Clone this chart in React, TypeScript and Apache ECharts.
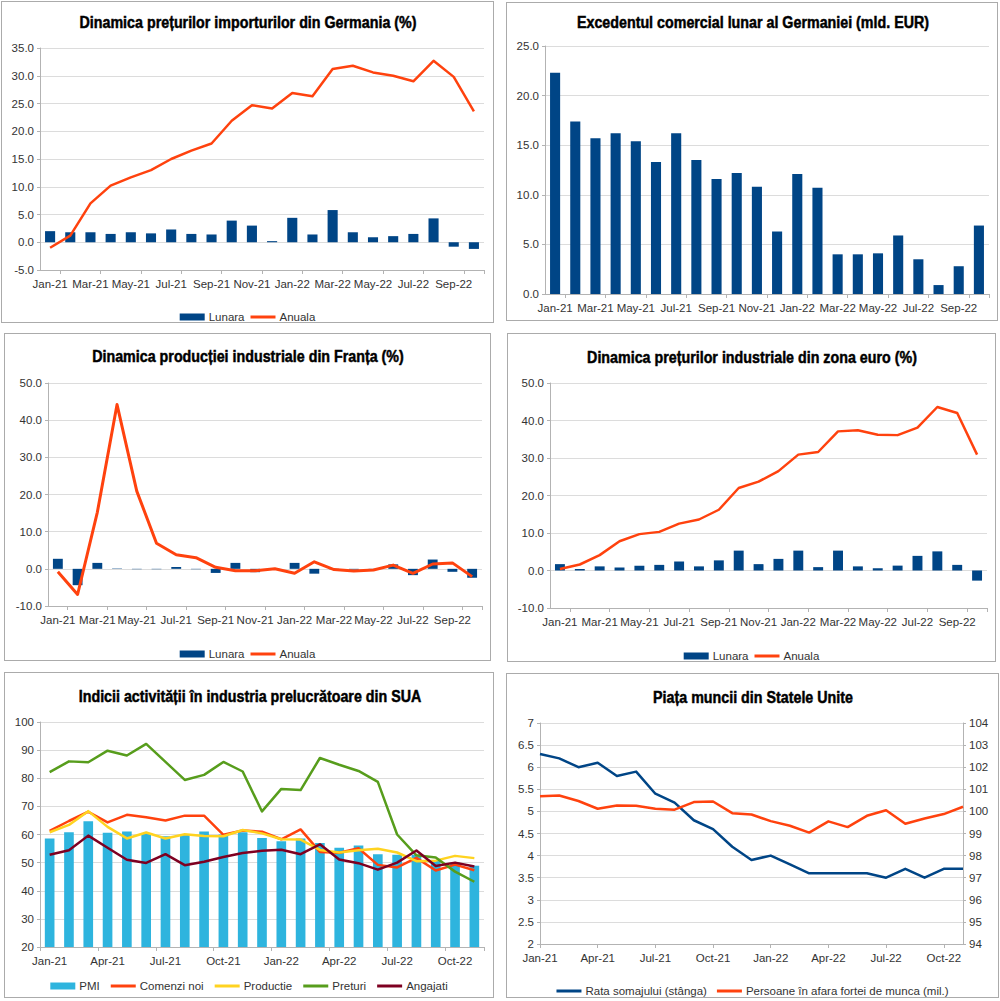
import React, { useEffect, useRef } from "react";
import * as echarts from "echarts";

const months22 = [
  "Jan-21", "Feb-21", "Mar-21", "Apr-21", "May-21", "Jun-21", "Jul-21", "Aug-21", "Sep-21", "Oct-21", "Nov-21", "Dec-21",
  "Jan-22", "Feb-22", "Mar-22", "Apr-22", "May-22", "Jun-22", "Jul-22", "Aug-22", "Sep-22", "Oct-22",
];
const months23 = [...months22, "Nov-22"];

// Germania - preturi import
const deImpLunara = [2.0, 1.8, 1.8, 1.5, 1.8, 1.6, 2.3, 1.5, 1.4, 3.9, 3.0, 0.2, 4.4, 1.4, 5.8, 1.8, 0.9, 1.1, 1.5, 4.3, -0.8, -1.2];
const deImpAnuala = [-1.0, 1.2, 7.0, 10.2, 11.7, 13.0, 15.0, 16.5, 17.8, 21.9, 24.7, 24.1, 26.9, 26.3, 31.2, 31.8, 30.6, 30.0, 29.0, 32.7, 29.8, 23.6];

// Germania - excedent comercial
const deExcedent = [22.3, 17.4, 15.7, 16.2, 15.4, 13.3, 16.2, 13.5, 11.6, 12.2, 10.8, 6.3, 12.1, 10.7, 4.0, 4.0, 4.1, 5.9, 3.5, 0.9, 2.8, 6.9];

// Franta - productie industriala
const frLunara = [2.7, -4.4, 1.6, 0.1, -0.1, -0.1, 0.5, -0.1, -1.1, 1.6, -0.9, -0.2, 1.6, -1.3, -0.1, -0.2, -0.2, 1.2, -1.7, 2.5, -0.8, -2.4];
const frAnuala = [-0.8, -6.9, 15.2, 44.2, 20.9, 6.9, 3.8, 3.0, 0.4, -0.5, -0.5, 0.0, -1.2, 1.9, -0.2, -0.6, -0.3, 1.0, -1.2, 1.3, 1.6, -2.1];

// Zona euro - preturi industriale
const ezLunara = [1.7, 0.4, 1.1, 0.8, 1.3, 1.5, 2.4, 1.1, 2.7, 5.3, 1.7, 3.1, 5.3, 0.9, 5.3, 1.1, 0.6, 1.3, 3.9, 5.1, 1.5, -2.7];
const ezAnuala = [0.4, 1.6, 4.1, 7.8, 9.7, 10.3, 12.5, 13.6, 16.2, 22.0, 23.7, 26.5, 30.9, 31.6, 37.1, 37.4, 36.2, 36.1, 38.1, 43.6, 42.0, 30.9];

// SUA - ISM manufacturing
const pmi = [58.6, 60.8, 64.7, 60.6, 61.1, 60.4, 59.4, 59.8, 61.1, 60.0, 60.8, 58.8, 57.6, 58.6, 57.0, 55.3, 56.1, 53.0, 52.8, 52.8, 50.9, 50.1, 48.9];
const comenziNoi = [61.3, 64.8, 68.1, 64.3, 67.0, 66.1, 65.0, 66.7, 66.7, 59.9, 61.4, 61.0, 58.3, 61.8, 53.8, 53.5, 55.1, 49.2, 48.3, 51.7, 47.2, 49.3, 47.3];
const productie = [60.8, 63.4, 68.3, 62.7, 58.6, 60.7, 58.6, 60.1, 59.5, 59.4, 61.6, 60.4, 58.3, 58.2, 54.5, 53.6, 54.4, 54.9, 53.6, 50.5, 50.7, 52.4, 51.6];
const preturi = [82.2, 86.0, 85.7, 89.8, 88.1, 92.2, 85.8, 79.4, 81.2, 85.8, 82.4, 68.2, 76.2, 75.8, 87.2, 84.8, 82.6, 78.7, 60.0, 52.6, 51.8, 46.8, 43.2];
const angajati = [52.8, 54.4, 59.6, 55.3, 51.0, 49.9, 53.0, 49.1, 50.3, 52.0, 53.4, 54.2, 54.6, 53.0, 56.5, 51.1, 49.8, 47.5, 50.0, 54.3, 48.8, 50.0, 48.6];

// SUA - piata muncii
const rataSomaj = [6.3, 6.2, 6.0, 6.1, 5.8, 5.9, 5.4, 5.2, 4.8, 4.6, 4.2, 3.9, 4.0, 3.8, 3.6, 3.6, 3.6, 3.6, 3.5, 3.7, 3.5, 3.7, 3.7];
const inAfara = [100.68, 100.72, 100.47, 100.12, 100.27, 100.26, 100.12, 100.08, 100.42, 100.45, 99.92, 99.86, 99.56, 99.35, 99.04, 99.55, 99.29, 99.8, 100.05, 99.44, 99.68, 99.88, 100.21];

const FONT = "'Liberation Sans', Arial, sans-serif";
const BLUE = "#004586";
const ORANGE = "#ff420e";
const GRID = "#dcdcdc";
const AXIS = "#b3b3b3";
const TEXT = "#333";
const LINE_ICON = "path://M0 0H25V3H0Z";

// condensed bold title, drawn as text squeezed horizontally
const title = (text: string, cx: number, cy: number) => ({
  type: "text",
  x: cx,
  y: cy,
  scaleX: 0.84,
  style: {
    text,
    fontFamily: FONT,
    fontWeight: "bold",
    fontSize: 17,
    fill: "#000",
    stroke: "#000",
    lineWidth: 0.5,
    textAlign: "center",
    textVerticalAlign: "middle",
    align: "center",
    verticalAlign: "middle",
  },
});

const catAxis = (data: string[], every: number, gap = true) => ({
  type: "category",
  data,
  boundaryGap: gap,
  axisLine: { onZero: false, lineStyle: { color: AXIS } },
  axisTick: {
    show: true,
    length: 4,
    lineStyle: { color: AXIS },
    interval: gap ? (i: number) => i % every === (every === 2 ? 1 : 0) : every - 1,
  },
  axisLabel: { interval: every - 1, color: TEXT, fontFamily: FONT, fontSize: 11.5, margin: 8 },
});

const valAxis = (min: number, max: number, step: number, fmt?: (v: number) => string) => ({
  type: "value",
  min,
  max,
  interval: step,
  axisLine: { show: true, lineStyle: { color: AXIS } },
  axisTick: { show: true, length: 3, lineStyle: { color: AXIS } },
  splitLine: { lineStyle: { color: GRID } },
  axisLabel: { color: TEXT, fontFamily: FONT, fontSize: 11.5, margin: 6, formatter: fmt },
});

const legend = (top: number, gap: number, names: string[], barName?: string) => ({
  top,
  left: "center",
  itemWidth: 25,
  itemHeight: 7,
  itemGap: gap,
  textStyle: { color: TEXT, fontFamily: FONT, fontSize: 11.5, padding: [0, 0, 0, -1] },
  data: names.map((name) => ({ name, icon: name === barName ? "rect" : LINE_ICON })),
});

const fix1 = (v: number) => v.toFixed(1);

const barLine = (bars: number[], line: number[], lw: number) => [
  { name: "Lunara", type: "bar", data: bars, barWidth: "50%", itemStyle: { color: BLUE } },
  {
    name: "Anuala",
    type: "line",
    data: line,
    symbol: "none",
    lineStyle: { color: ORANGE, width: lw, join: "round" },
    itemStyle: { color: ORANGE },
  },
];

const opt1 = {
  animation: false,
  graphic: [title("Dinamica prețurilor importurilor din Germania (%)", 246, 20)],
  grid: { left: 38, right: 9, top: 46, bottom: 52 },
  legend: legend(304, 6, ["Lunara", "Anuala"], "Lunara"),
  xAxis: catAxis(months22, 2),
  yAxis: valAxis(-5, 35, 5, fix1),
  series: barLine(deImpLunara, deImpAnuala, 2.5),
};

const opt2 = {
  animation: false,
  graphic: [title("Excedentul comercial lunar al Germaniei (mld. EUR)", 246, 19)],
  grid: { left: 38, right: 8, top: 43, bottom: 26 },
  xAxis: catAxis(months22, 2),
  yAxis: valAxis(0, 25, 5, fix1),
  series: [{ name: "Excedent", type: "bar", data: deExcedent, barWidth: "50%", itemStyle: { color: BLUE } }],
};

const opt3 = {
  animation: false,
  graphic: [title("Dinamica producției industriale din Franța (%)", 243, 22)],
  grid: { left: 43, right: 8, top: 49, bottom: 54 },
  legend: legend(309, 6, ["Lunara", "Anuala"], "Lunara"),
  xAxis: catAxis(months22, 2),
  yAxis: valAxis(-10, 50, 10, fix1),
  series: barLine(frLunara, frAnuala, 3),
};

const opt4 = {
  animation: false,
  graphic: [title("Dinamica prețurilor industriale din zona euro (%)", 244, 23)],
  grid: { left: 42, right: 8, top: 49, bottom: 53 },
  legend: legend(311, 6, ["Lunara", "Anuala"], "Lunara"),
  xAxis: catAxis(months22, 2),
  yAxis: valAxis(-10, 50, 10, fix1),
  series: barLine(ezLunara, ezAnuala, 2.5),
};

const ln = (name: string, data: number[], color: string, yAxisIndex = 0) => ({
  name,
  type: "line",
  data,
  yAxisIndex,
  symbol: "none",
  lineStyle: { color, width: 2.5, join: "round" },
  itemStyle: { color },
});

const opt5 = {
  animation: false,
  graphic: [title("Indicii activității în industria prelucrătoare din SUA", 245, 23)],
  grid: { left: 35, right: 9, top: 49, bottom: 50 },
  legend: legend(302, 11, ["PMI", "Comenzi noi", "Productie", "Preturi", "Angajati"], "PMI"),
  xAxis: catAxis(months23, 3),
  yAxis: valAxis(20, 100, 10),
  series: [
    { name: "PMI", type: "bar", data: pmi, barWidth: "50%", itemStyle: { color: "#2eb4de" } },
    ln("Comenzi noi", comenziNoi, ORANGE),
    ln("Productie", productie, "#ffd320"),
    ln("Preturi", preturi, "#579d1c"),
    ln("Angajati", angajati, "#7e0021"),
  ],
};

const opt6 = {
  animation: false,
  graphic: [title("Piața muncii din Statele Unite", 246, 23)],
  grid: { left: 33, right: 35, top: 49, bottom: 53 },
  legend: legend(306, 10, ["Rata somajului (stânga)", "Persoane în afara fortei de munca (mil.)"]),
  xAxis: catAxis(months23, 3, false),
  yAxis: [
    valAxis(2, 7, 0.5),
    { ...valAxis(94, 104, 1), position: "right", splitLine: { show: false } },
  ],
  series: [
    ln("Rata somajului (stânga)", rataSomaj, BLUE, 0),
    ln("Persoane în afara fortei de munca (mil.)", inAfara, ORANGE, 1),
  ],
};

const Panel: React.FC<{ box: number[]; option: any }> = ({ box, option }) => {
  const ref = useRef<HTMLDivElement>(null);
  const [left, top, width, height] = box;

  useEffect(() => {
    if (!ref.current) return;
    const chart = echarts.init(ref.current, undefined, { renderer: "svg" });
    chart.setOption(option);
    return () => chart.dispose();
  }, [option]);

  return (
    <div
      style={{
        position: "absolute",
        left,
        top,
        width,
        height,
        border: "1px solid #ababab",
        boxSizing: "border-box",
        background: "#fff",
      }}
    >
      <div ref={ref} style={{ width: width - 2, height: height - 2 }} />
    </div>
  );
};

const App: React.FC = () => (
  <div style={{ position: "fixed", left: 0, top: 0, width: 1000, height: 1001, background: "#fff" }}>
    <Panel box={[1, 1, 493, 322]} option={opt1} />
    <Panel box={[506, 2, 492, 319]} option={opt2} />
    <Panel box={[4, 333, 487, 328]} option={opt3} />
    <Panel box={[507, 333, 489, 329]} option={opt4} />
    <Panel box={[4, 672, 490, 326]} option={opt5} />
    <Panel box={[506, 673, 493, 325]} option={opt6} />
  </div>
);

export default App;
